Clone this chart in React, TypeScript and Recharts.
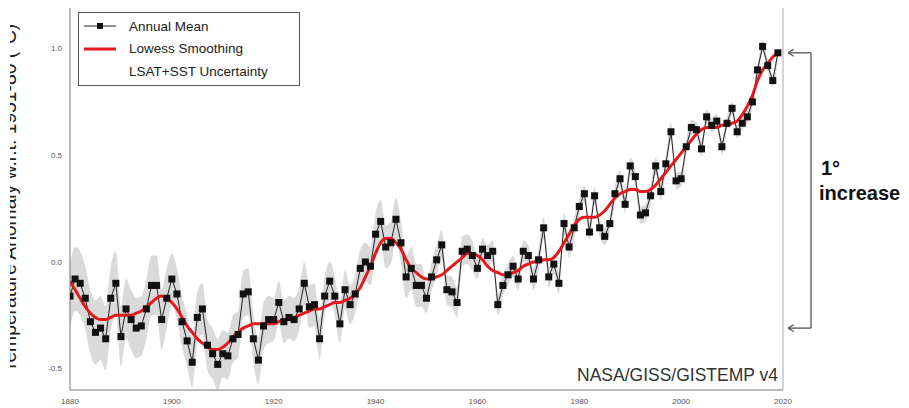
import {
  Area,
  ComposedChart,
  Legend,
  Line,
  ReferenceLine,
  XAxis,
  YAxis,
} from 'recharts';

const FONT = '"Liberation Sans", Arial, Helvetica, sans-serif';

const FIRST_YEAR = 1880;

// GISTEMP v4 annual mean anomaly, 1880..2019 (°C w.r.t. 1951-80)
const annualMean = [
  -0.16, -0.08, -0.1, -0.17, -0.28, -0.33, -0.31, -0.36, -0.17, -0.1,
  -0.35, -0.22, -0.27, -0.31, -0.3, -0.22, -0.11, -0.11, -0.27, -0.17,
  -0.08, -0.15, -0.28, -0.37, -0.47, -0.26, -0.22, -0.39, -0.43, -0.48,
  -0.43, -0.44, -0.36, -0.34, -0.15, -0.14, -0.36, -0.46, -0.3, -0.27,
  -0.27, -0.19, -0.28, -0.26, -0.27, -0.22, -0.1, -0.21, -0.2, -0.36,
  -0.16, -0.09, -0.16, -0.29, -0.13, -0.2, -0.15, -0.03, 0.0, -0.02,
  0.13, 0.19, 0.07, 0.09, 0.2, 0.09, -0.07, -0.03, -0.11, -0.11,
  -0.17, -0.07, 0.01, 0.08, -0.13, -0.14, -0.19, 0.05, 0.06, 0.03,
  -0.03, 0.06, 0.03, 0.05, -0.2, -0.11, -0.06, -0.02, -0.08, 0.05,
  0.03, -0.08, 0.01, 0.16, -0.07, -0.01, -0.1, 0.18, 0.07, 0.16,
  0.26, 0.32, 0.14, 0.31, 0.16, 0.12, 0.18, 0.32, 0.39, 0.27,
  0.45, 0.4, 0.22, 0.23, 0.31, 0.45, 0.33, 0.46, 0.61, 0.38,
  0.39, 0.54, 0.63, 0.62, 0.53, 0.68, 0.64, 0.66, 0.54, 0.65,
  0.72, 0.61, 0.65, 0.68, 0.75, 0.9, 1.01, 0.92, 0.85, 0.98,
];

// Lowess smoothing, 1880..2019
const lowess = [
  -0.09, -0.13, -0.17, -0.21, -0.24, -0.26, -0.27, -0.27, -0.26, -0.25,
  -0.25, -0.25, -0.25, -0.24, -0.23, -0.21, -0.19, -0.17, -0.16, -0.17,
  -0.19, -0.22, -0.26, -0.3, -0.33, -0.36, -0.38, -0.4, -0.41, -0.41,
  -0.4, -0.38, -0.35, -0.33, -0.31, -0.3, -0.29, -0.29, -0.29, -0.29,
  -0.29, -0.28, -0.27, -0.27, -0.26, -0.25, -0.24, -0.23, -0.22, -0.22,
  -0.21, -0.2, -0.19, -0.19, -0.18, -0.17, -0.15, -0.12, -0.07, -0.02,
  0.04, 0.09, 0.11, 0.11, 0.09, 0.06, 0.01, -0.03, -0.05, -0.07,
  -0.08, -0.08, -0.07, -0.06, -0.04, -0.02, 0.0, 0.02, 0.04, 0.04,
  0.03, 0.01, -0.02, -0.04, -0.05, -0.06, -0.06, -0.05, -0.04, -0.02,
  -0.01, 0.0, 0.0, 0.01, 0.01, 0.02, 0.05, 0.09, 0.13, 0.17,
  0.2, 0.21, 0.21, 0.21, 0.22, 0.24, 0.27, 0.3, 0.32, 0.33,
  0.34, 0.34, 0.33, 0.33, 0.34, 0.36, 0.39, 0.42, 0.45, 0.48,
  0.51, 0.54, 0.57, 0.6, 0.62, 0.63, 0.63, 0.63, 0.64, 0.64,
  0.65, 0.66, 0.69, 0.73, 0.78, 0.85, 0.9, 0.93, 0.96, 0.98,
];

// LSAT+SST half-width of uncertainty band, per decade (1880s..2010s)
const decadeUncertainty = [
  0.15, 0.14, 0.12, 0.11, 0.1, 0.09, 0.1, 0.07, 0.05, 0.05, 0.04, 0.04, 0.035, 0.03,
];

const xTicks = [1880, 1900, 1920, 1940, 1960, 1980, 2000, 2020];
const yTicks = [-0.5, 0, 0.5, 1.0];

// "1° increase" bracket ends (data units)
const bracketTop = 0.98;
const bracketBottom = -0.31;
const bracketYear = 2025.5;
const arrowYear = 2021;

const rows = annualMean.map((v, i) => {
  const u = decadeUncertainty[Math.floor(i / 10)];
  return {
    year: FIRST_YEAR + i,
    mean: v,
    smooth: lowess[i],
    band: [v - u, v + u],
  };
});

function SquareDot(props: any) {
  const { cx, cy, index } = props;
  if (cx == null || cy == null) return <g key={index} />;
  return <rect key={index} x={cx - 3.5} y={cy - 3.5} width={7} height={7} fill="#111" />;
}

function LegendBox() {
  const row = { display: 'flex', alignItems: 'center', height: 22.5 };
  const label = { marginLeft: 13, whiteSpace: 'nowrap' as const };
  return (
    <div
      style={{
        border: '1px solid #555',
        background: '#fff',
        padding: '2px 0',
        width: 222,
        boxSizing: 'border-box',
        fontFamily: FONT,
        fontSize: 13.5,
        color: '#222',
      }}
    >
      <div style={row}>
        <svg width={32} height={10} style={{ marginLeft: 5 }}>
          <line x1={0} y1={5} x2={32} y2={5} stroke="#222" strokeWidth={1} />
          <rect x={13} y={2} width={6} height={6} fill="#111" />
        </svg>
        <span style={label}>Annual Mean</span>
      </div>
      <div style={row}>
        <svg width={32} height={10} style={{ marginLeft: 5 }}>
          <line x1={0} y1={5} x2={32} y2={5} stroke="#e3191c" strokeWidth={3} />
        </svg>
        <span style={label}>Lowess Smoothing</span>
      </div>
      <div style={row}>
        <svg width={32} height={10} style={{ marginLeft: 5 }} />
        <span style={label}>LSAT+SST Uncertainty</span>
      </div>
    </div>
  );
}

export default function App() {
  return (
    <div style={{ position: 'absolute', left: 0, top: 0, width: 909, height: 408, background: '#fff' }}>
      <ComposedChart
        width={909}
        height={408}
        data={rows}
        margin={{ top: 8, right: 126, bottom: 0, left: 40 }}
        style={{ fontFamily: FONT }}
      >
        <XAxis
          dataKey="year"
          type="number"
          domain={[1880, 2020]}
          ticks={xTicks}
          allowDataOverflow
          tickLine={false}
          axisLine={{ stroke: '#777' }}
          tick={{ fontSize: 8, fill: '#555' }}
          height={18}
        />
        <YAxis
          type="number"
          domain={[-0.6, 1.19]}
          ticks={yTicks}
          allowDataOverflow
          tickFormatter={(v: number) => v.toFixed(1)}
          tickLine={false}
          axisLine={{ stroke: '#777' }}
          tick={{ fontSize: 8, fill: '#555' }}
          width={30}
        />
        <Legend
          layout="horizontal"
          verticalAlign="middle"
          align="center"
          wrapperStyle={{ left: 78, top: 12, width: 222 }}
          content={() => <LegendBox />}
        />
        <ReferenceLine x={2020} stroke="#aaa" />
        <Area
          dataKey="band"
          type="monotone"
          stroke="none"
          fill="#cdcdcd"
          fillOpacity={0.75}
          isAnimationActive={false}
          legendType="none"
        />
        <Line
          dataKey="mean"
          type="linear"
          stroke="#222"
          strokeWidth={1}
          dot={SquareDot}
          activeDot={false}
          isAnimationActive={false}
        />
        <Line
          dataKey="smooth"
          type="monotone"
          stroke="#e3191c"
          strokeWidth={3}
          dot={false}
          activeDot={false}
          isAnimationActive={false}
        />
        <ReferenceLine
          ifOverflow="visible"
          stroke="#555"
          strokeWidth={1.3}
          segment={[
            { x: bracketYear, y: bracketTop },
            { x: bracketYear, y: bracketBottom },
          ]}
        />
        {[bracketTop, bracketBottom].map((y) => (
          <ReferenceLine
            key={`h-${y}`}
            ifOverflow="visible"
            stroke="#555"
            strokeWidth={1.3}
            segment={[
              { x: bracketYear, y },
              { x: arrowYear, y },
            ]}
          />
        ))}
        {[bracketTop, bracketBottom].flatMap((y) =>
          [0.016, -0.016].map((d) => (
            <ReferenceLine
              key={`a-${y}-${d}`}
              ifOverflow="visible"
              stroke="#555"
              strokeWidth={1.3}
              segment={[
                { x: arrowYear, y },
                { x: arrowYear + 1.1, y: y + d },
              ]}
            />
          )),
        )}
      </ComposedChart>
      <svg
        width={909}
        height={408}
        style={{ position: 'absolute', left: 0, top: 0, pointerEvents: 'none', fontFamily: FONT }}
      >
        <defs>
          <clipPath id="ylabel-clip">
            <rect x={10} y={0} width={40} height={408} />
          </clipPath>
        </defs>
        <g clipPath="url(#ylabel-clip)">
          <text
            transform="translate(15.5,198) rotate(-90)"
            textAnchor="middle"
            fontSize={19.3}
            fill="#222"
          >
            Temperature Anomaly w.r.t. 1951-80 (°C)
          </text>
        </g>
        <text x={778} y={381} textAnchor="end" fontSize={17.5} fill="#333">
          NASA/GISS/GISTEMP v4
        </text>
        <text x={821} y={175} fontSize={20} fontWeight="bold" fill="#111">
          1°
        </text>
        <text x={819} y={200} fontSize={20} fontWeight="bold" fill="#111">
          increase
        </text>
      </svg>
    </div>
  );
}
